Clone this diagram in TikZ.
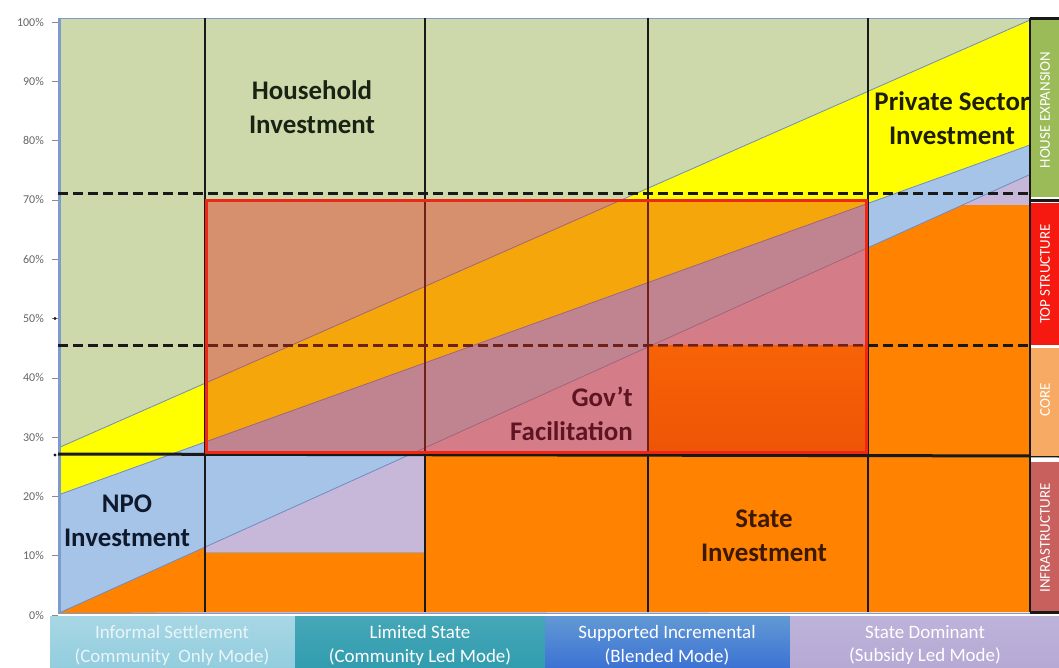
\documentclass[tikz,border=0pt]{standalone}
\usepackage{fontspec}
\setmainfont{Carlito}
\definecolor{chgreen}{RGB}{205,217,170}
\definecolor{chyellow}{RGB}{255,255,0}
\definecolor{chblue}{RGB}{166,196,232}
\definecolor{chlav}{RGB}{199,184,217}
\definecolor{chorange}{RGB}{255,130,0}
\definecolor{ovred}{RGB}{230,45,25}
\definecolor{rimred}{RGB}{238,40,20}
\definecolor{linecol}{RGB}{25,25,25}
\definecolor{thincol}{RGB}{110,140,195}
\definecolor{axblue}{RGB}{125,155,205}
\definecolor{sbgreen}{RGB}{155,187,89}
\definecolor{sbred}{RGB}{245,25,15}
\definecolor{sbcore}{RGB}{247,170,100}
\definecolor{sbinfra}{RGB}{200,96,94}
\definecolor{mdone}{RGB}{146,205,222}
\definecolor{mdtwo}{RGB}{49,157,175}
\definecolor{mdthree}{RGB}{70,135,205}
\definecolor{mdfour}{RGB}{182,170,213}
\definecolor{labgreen}{RGB}{25,35,20}
\definecolor{labnpo}{RGB}{15,25,45}
\definecolor{labpriv}{RGB}{30,30,0}
\definecolor{labstate}{RGB}{60,25,0}
\definecolor{labgov}{RGB}{95,20,35}
\tikzset{
  vline/.style={line width=2.4bp, draw=linecol},
  dline/.style={line width=3bp, draw=linecol, dash pattern=on 10bp off 5bp},
  hline/.style={line width=3bp, draw=linecol},
  thinb/.style={line width=0.8bp, draw=thincol},
  big/.style={font=\fontsize{27}{34}\selectfont\bfseries, align=center, inner sep=0},
  modetxt/.style={font=\fontsize{19}{24}\selectfont, align=center, text=white, inner sep=0},
  sidetxt/.style={rotate=90, font=\fontsize{15}{15}\selectfont, text=white, inner sep=0},
  ylab/.style={anchor=east, font=\fontsize{12}{12}\selectfont, text=black!60, inner sep=0},
  ytick/.style={draw=black!45, line width=0.6bp},
}
\begin{document}
\begin{tikzpicture}[x=1bp,y=-1bp]
\useasboundingbox (0,0) rectangle (1059,668);
\fill[white] (0,0) rectangle (1059,668);
% bands
\fill[chgreen] (58,18) rectangle (1030,612);
\fill[chyellow] (58,448) -- (1030,20) -- (1030,145) -- (58,495) -- cycle;
\fill[chblue] (58,495) -- (1030,145) -- (1030,612) -- (58,612) -- cycle;
\fill[chlav] (58,613.5) -- (1030,174.5) -- (1030,612) -- cycle;
% orange (state) regions
\fill[chorange] (58,613.5) -- (205,547.1) -- (205,612) -- cycle;
\fill[chorange] (205,552) rectangle (425,612);
\fill[chorange] (425,455) rectangle (648,612);
\fill[chorange] (648,345) rectangle (868,612);
\fill[chorange] (868,612) -- (868,247.7) -- (962.5,205) -- (1030,205) -- (1030,612) -- cycle;
\draw[black!35, line width=0.6bp] (205,552) -- (425,552);
% thin boundaries
\draw[thinb] (58,448) -- (1030,20);
\draw[thinb] (58,495) -- (1030,145);
\draw[thinb] (58,613.5) -- (1030,174.5);
% borders of plot
\draw[axblue, line width=0.8bp] (58,18) -- (1030,18);
\draw[axblue, line width=3bp] (59.5,18) -- (59.5,613);
\draw[axblue, line width=1.2bp] (58,613.5) -- (1030,613.5);
% grid lines
\draw[vline] (205,18) -- (205,612);
\draw[vline] (425,18) -- (425,612);
\draw[vline] (648,18) -- (648,612);
\draw[vline] (868,18) -- (868,612);
\draw[dline] (58,193) -- (1059,193);
\draw[dline] (58,345) -- (1030,345);
\draw[hline] (58,454) -- (1059,456);
% government facilitation overlay
\fill[ovred, opacity=0.42] (205,200) rectangle (868,452);
\shade[top color=orange!85!red, bottom color=orange!60!red!90!black, opacity=0.35] (649,346) rectangle (866,451);
\draw[rimred, line width=3bp] (206.5,200) rectangle (866.5,452);
% side bar
\fill[sbgreen] (1030,18) rectangle (1059,197);
\fill[sbred] (1030,203) rectangle (1059,345);
\fill[sbcore] (1030,348) rectangle (1059,456);
\fill[sbinfra] (1030,462) rectangle (1059,612);
\draw[hline] (1030,19) -- (1059,19);
\draw[hline] (1030,200) -- (1059,200);
\draw[hline] (1030,612) -- (1059,612);
\draw[vline] (1030,18) -- (1030,612);
\node[sidetxt] (sbhouse) at (1045,110) {HOUSE EXPANSION};
\node[sidetxt] (sbtop) at (1045,274) {TOP STRUCTURE};
\node[sidetxt] (sbcore) at (1045,400) {CORE};
\node[sidetxt] (sbinfra) at (1045,538) {INFRASTRUCTURE};
% mode band
\shade[top color=mdone!80!white, bottom color=mdone] (50,616) rectangle (295,668);
\shade[top color=mdtwo!90!white, bottom color=mdtwo] (295,616) rectangle (545,668);
\shade[top color=mdthree!85!white, bottom color=mdthree!85!blue] (545,616) rectangle (790,668);
\shade[top color=mdfour!90!white, bottom color=mdfour] (790,616) rectangle (1059,668);
\node[modetxt, text=white!80!mdone] (mode1) at (172,645) {Informal Settlement\\(Community\ \ Only Mode)};
\node[modetxt] (mode2) at (420,645) {Limited State\\(Community Led Mode)};
\node[modetxt] (mode3) at (667,645) {Supported Incremental\\(Blended Mode)};
\node[modetxt] (mode4) at (925,645) {State Dominant\\(Subsidy Led Mode)};
% y axis
\foreach \p/\yy in {0/615,10/555.7,20/496.4,30/437.1,40/377.8,50/318.5,60/259.2,70/199.9,80/140.6,90/81.3,100/22} {
  \draw[ytick] (52,\yy) -- (58,\yy);
  \node[ylab] (y\p) at (44,\yy) {\p\%};
}
\fill[linecol] (55,318.5) circle (1.6);
\fill[linecol] (55,455) circle (1.6);
% labels
\node[big, text=labgreen] (household) at (312,107) {Household\\Investment};
\node[big, text=labpriv] (private) at (952,118) {Private Sector\\Investment};
\node[big, text=labnpo] (npo) at (127,521) {NPO\\Investment};
\node[big, text=labgov, align=right, anchor=east] (gov) at (633,414) {Gov’t\\Facilitation};
\node[big, text=labstate] (state) at (764,536) {State\\Investment};
\end{tikzpicture}
\end{document}
